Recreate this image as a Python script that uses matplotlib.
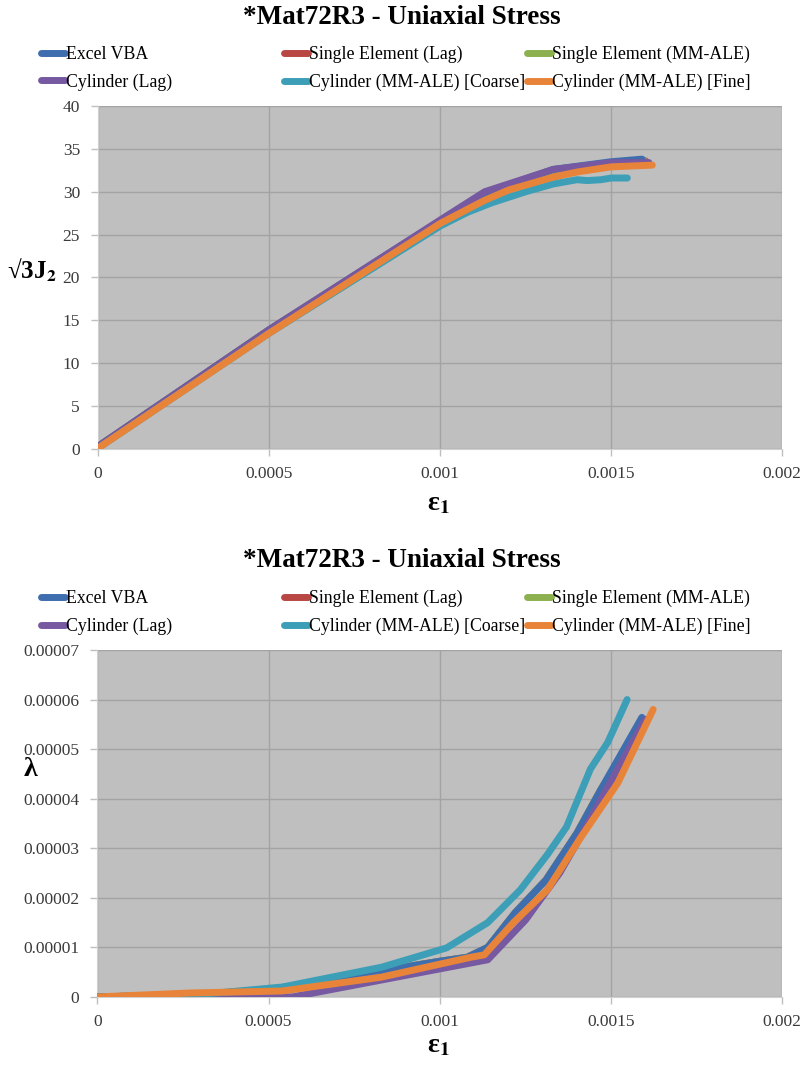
import matplotlib
matplotlib.use("Agg")
import matplotlib.pyplot as plt
from matplotlib.lines import Line2D

plt.rcParams["font.family"] = ["Liberation Serif", "DejaVu Serif"]
plt.rcParams["mathtext.fontset"] = "stix"

# ---- data -----------------------------------------------------------------
series_names = ["Excel VBA", "Single Element (Lag)", "Single Element (MM-ALE)",
                "Cylinder (Lag)", "Cylinder (MM-ALE) [Coarse]", "Cylinder (MM-ALE) [Fine]"]
series_colors = ["#3F6EAF", "#B84743", "#8DB04E", "#7659A0", "#3C9FB7", "#E8843A"]
# drawing order: single-element runs sit underneath the Excel VBA curve
series_zorder = [3.0, 2.1, 2.2, 3.1, 3.2, 3.3]

x_ticks = [0, 0.0005, 0.001, 0.0015, 0.002]
x_tick_labels = ["0", "0.0005", "0.001", "0.0015", "0.002"]
j2_ticks = [0, 5, 10, 15, 20, 25, 30, 35, 40]
lam_ticks = [0, 0.00001, 0.00002, 0.00003, 0.00004, 0.00005, 0.00006, 0.00007]
lam_tick_labels = ["0", "0.00001", "0.00002", "0.00003", "0.00004", "0.00005", "0.00006", "0.00007"]

# top chart: sqrt(3 J2) vs strain
excel_eps = [0, 0.0005, 0.001, 0.00113, 0.00133, 0.0015, 0.00159]
excel_j2 = [0.3, 13.9, 26.6, 29.8, 32.6, 33.5, 33.8]
slag_eps = [0, 0.0005, 0.001, 0.00113, 0.00133, 0.0015, 0.0016]
slag_j2 = [0.3, 13.9, 26.6, 29.8, 32.5, 33.4, 33.6]
smm_eps = [0, 0.0005, 0.001, 0.00113, 0.00133, 0.0015, 0.0016]
smm_j2 = [0.3, 13.9, 26.6, 29.8, 32.5, 33.3, 33.5]
clag_eps = [0, 0.0005, 0.001, 0.00113, 0.00133, 0.0015, 0.00161]
clag_j2 = [0.3, 13.9, 26.7, 30.0, 32.6, 33.4, 33.4]
coarse_eps = [0, 0.0005, 0.001, 0.00108, 0.00115, 0.00125, 0.00133, 0.0014,
              0.00143, 0.00147, 0.0015, 0.001547]
coarse_j2 = [0.1, 13.5, 26.0, 27.6, 28.7, 30.0, 30.9, 31.4, 31.3, 31.4, 31.6, 31.6]
fine_eps = [0, 0.0005, 0.001, 0.00113, 0.0012, 0.00133, 0.0014, 0.0015, 0.00162]
fine_j2 = [0.1, 13.5, 26.3, 29.0, 30.2, 31.7, 32.3, 32.9, 33.1]

# bottom chart: lambda vs strain
excel_leps = [0, 0.0003, 0.0005, 0.0007, 0.00085, 0.001, 0.00108, 0.00114,
              0.00122, 0.00131, 0.0014, 0.00147, 0.00159]
excel_lam = [0, 0.05e-5, 0.15e-5, 0.35e-5, 0.55e-5, 0.72e-5, 0.8e-5, 1.0e-5,
             1.7e-5, 2.36e-5, 3.3e-5, 4.18e-5, 5.64e-5]
slag_leps = [0, 0.0003, 0.0005, 0.0007, 0.00085, 0.001, 0.00108, 0.00114,
             0.00122, 0.00131, 0.0014, 0.00147, 0.0016]
slag_lam = [0, 0.05e-5, 0.15e-5, 0.35e-5, 0.55e-5, 0.72e-5, 0.8e-5, 1.0e-5,
            1.7e-5, 2.36e-5, 3.3e-5, 4.18e-5, 5.6e-5]
smm_leps = [0, 0.0003, 0.0005, 0.0007, 0.00085, 0.001, 0.00108, 0.00114,
            0.00122, 0.00131, 0.0014, 0.00147, 0.0016]
smm_lam = [0, 0.05e-5, 0.15e-5, 0.35e-5, 0.55e-5, 0.72e-5, 0.8e-5, 1.0e-5,
           1.7e-5, 2.36e-5, 3.3e-5, 4.18e-5, 5.6e-5]
clag_leps = [0, 0.00057, 0.00114, 0.00125, 0.00135, 0.0014, 0.0015, 0.0016]
clag_lam = [0, 0, 0.75e-5, 1.55e-5, 2.5e-5, 3.1e-5, 4.35e-5, 5.6e-5]
coarse_leps = [0, 0.0003, 0.00054, 0.00083, 0.00102, 0.00114, 0.001235, 0.001314,
               0.00137, 0.00141, 0.00144, 0.00149, 0.001547]
coarse_lam = [0, 0.05e-5, 0.2e-5, 0.6e-5, 0.99e-5, 1.5e-5, 2.16e-5, 2.87e-5,
              3.43e-5, 4.1e-5, 4.6e-5, 5.13e-5, 6.0e-5]
fine_leps = [0, 0.00027, 0.00054, 0.00083, 0.00109, 0.00113, 0.001215, 0.001314,
             0.00141, 0.00152, 0.001623]
fine_lam = [0, 0.08e-5, 0.12e-5, 0.4e-5, 0.8e-5, 0.85e-5, 1.5e-5, 2.16e-5,
            3.2e-5, 4.32e-5, 5.8e-5]

top_series = [(excel_eps, excel_j2), (slag_eps, slag_j2), (smm_eps, smm_j2),
              (clag_eps, clag_j2), (coarse_eps, coarse_j2), (fine_eps, fine_j2)]
bot_series = [(excel_leps, excel_lam), (slag_leps, slag_lam), (smm_leps, smm_lam),
              (clag_leps, clag_lam), (coarse_leps, coarse_lam), (fine_leps, fine_lam)]

TITLE = "*Mat72R3 - Uniaxial Stress"
LW = 5.0


def style_axes(ax):
    ax.set_facecolor("#BFBFBF")
    ax.grid(True, color="#A3A3A3", linewidth=1.0)
    ax.set_axisbelow(True)
    for side in ("top", "right"):
        ax.spines[side].set_visible(False)
    for side in ("left", "bottom"):
        ax.spines[side].set_color("#D0D0D0")
    ax.tick_params(colors="#BFBFBF", labelcolor="#3A3A3A", labelsize=12.5,
                   length=5, width=1)
    ax.set_xlim(0, 0.002)
    ax.set_xticks(x_ticks)
    ax.set_xticklabels(x_tick_labels)
    ax.tick_params(axis="x", pad=7)
    ax.tick_params(axis="y", pad=8)


def draw_panel(ax, series):
    for (xs, ys), color, z in zip(series, series_colors, series_zorder):
        ax.plot(xs, ys, color=color, lw=LW, solid_capstyle="round",
                solid_joinstyle="round", zorder=z)


def add_legend(fig, y_top):
    handles = [Line2D([], [], color=c, lw=5, solid_capstyle="round") for c in series_colors]
    col_x = [0.051, 0.353, 0.655]
    for i, x in enumerate(col_x):
        fig.legend([handles[i], handles[i + 3]], [series_names[i], series_names[i + 3]],
                   loc="upper left", bbox_to_anchor=(x, y_top), frameon=False,
                   fontsize=12.8, handlelength=1.35, handletextpad=0.05,
                   labelspacing=0.6, borderaxespad=0, borderpad=0)


fig = plt.figure(figsize=(8.04, 10.65), dpi=100)

ax1 = fig.add_axes([0.122, 0.5784, 0.851, 0.3221])
style_axes(ax1)
draw_panel(ax1, top_series)
ax1.set_ylim(0, 40)
ax1.set_yticks(j2_ticks)

ax2 = fig.add_axes([0.121, 0.0639, 0.852, 0.3258])
style_axes(ax2)
draw_panel(ax2, bot_series)
ax2.set_ylim(0, 0.00007)
ax2.set_yticks(lam_ticks)
ax2.set_yticklabels(lam_tick_labels)

fig.text(0.5, 0.984, TITLE, ha="center", va="center", fontsize=19.5, fontweight="bold")
fig.text(0.5, 0.474, TITLE, ha="center", va="center", fontsize=19.5, fontweight="bold")
add_legend(fig, 0.957)
add_legend(fig, 0.446)

fig.text(0.040, 0.746, "√3J$_\\mathbf{2}$", ha="center", va="center",
         fontsize=18, fontweight="bold")
fig.text(0.545, 0.527, "ε$_\\mathbf{1}$", ha="center", va="center",
         fontsize=20, fontweight="bold")
fig.text(0.038, 0.277, "λ", ha="center", va="center", fontsize=20, fontweight="bold")
fig.text(0.545, 0.018, "ε$_\\mathbf{1}$", ha="center", va="center",
         fontsize=20, fontweight="bold")

fig.savefig("out.png", dpi=100)
